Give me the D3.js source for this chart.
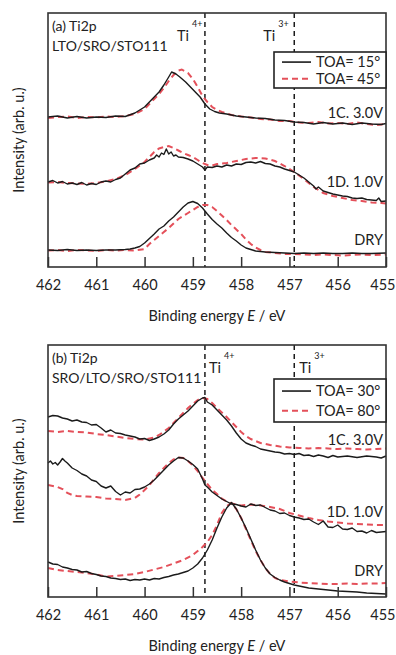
<!DOCTYPE html>
<html>
<head>
<meta charset="utf-8">
<script src="https://cdn.jsdelivr.net/npm/d3@7"></script>
<style>
  body { margin: 0; background: #fff; }
  svg text { font-family: Lato, "Open Sans", sans-serif; fill: #222; }
</style>
</head>
<body>
<svg id="chart" width="396" height="655"></svg>
<script>
// binding energy ticks (eV)
const energyTicks = [462, 461, 460, 459, 458, 457, 456, 455];
const ti4Energy = 458.75;
const ti3Energy = 456.9;

// panel (a) LTO/SRO/STO111, [E, intensity]
const a1C_15 = [[462.0,150],[461.8,151],[461.6,149],[461.4,150.5],[461.2,149],[461.0,150],[460.8,149.5],[460.6,151],[460.4,150.5],[460.2,154],[460.0,160],[459.9,165],[459.8,170],[459.7,175],[459.6,182],[459.5,190],[459.44,195],[459.35,193],[459.27,190],[459.15,185],[459.05,180],[458.95,175],[458.85,170],[458.75,163],[458.65,158],[458.55,155.5],[458.45,154],[458.3,153],[458.1,151],[457.9,150],[457.7,149],[457.5,148.5],[457.3,147],[457.1,146.5],[456.9,145],[456.7,144.5],[456.5,143],[456.3,144.5],[456.1,143],[455.9,144],[455.7,142.5],[455.5,144],[455.3,143],[455.1,142.5],[455.0,143.5]];
const a1C_45 = [[462.0,149],[461.8,150],[461.6,150.5],[461.4,149],[461.2,150],[461.0,149.5],[460.8,150.5],[460.6,150],[460.4,151],[460.2,153],[460.0,158],[459.9,163],[459.8,168],[459.7,173],[459.6,179],[459.5,186],[459.4,192],[459.3,196.5],[459.23,197.5],[459.1,194],[459.0,188],[458.9,180],[458.8,171],[458.7,165],[458.6,160],[458.5,157],[458.4,155],[458.2,152],[458.0,150.5],[457.8,149.5],[457.6,148],[457.4,147.5],[457.2,146],[457.0,146],[456.8,144.5],[456.6,144],[456.4,145],[456.2,143.5],[456.0,144],[455.8,143],[455.6,144.5],[455.4,143],[455.2,142],[455.0,143]];
const a1D_15 = [[462.0,85],[461.9,86.5],[461.8,84],[461.7,85.5],[461.6,83],[461.5,84],[461.4,82.5],[461.3,84.5],[461.2,82],[461.1,83.5],[461.0,82.5],[460.9,85],[460.8,86],[460.7,85],[460.6,87.5],[460.5,89],[460.4,93],[460.3,97],[460.2,99],[460.1,103],[460.0,104],[459.9,107],[459.8,109],[459.75,112],[459.7,110],[459.65,114],[459.6,112.5],[459.55,118],[459.5,113],[459.45,115],[459.4,111],[459.35,112],[459.3,110],[459.2,109.5],[459.1,108],[459.0,106],[458.9,103],[458.8,100],[458.75,97],[458.7,100],[458.6,99.5],[458.5,101],[458.4,100],[458.3,102],[458.2,101],[458.1,103],[458.0,102.5],[457.9,104.5],[457.8,105],[457.7,104],[457.6,105.5],[457.5,103.5],[457.4,103],[457.3,101],[457.2,100],[457.1,98],[457.0,96.5],[456.9,95],[456.8,92],[456.7,89],[456.6,85],[456.5,81],[456.45,78],[456.4,80],[456.3,76],[456.2,74.5],[456.1,73],[456.0,72],[455.9,71],[455.8,70.5],[455.7,69],[455.6,68.5],[455.5,69],[455.4,67.5],[455.3,67],[455.2,66.5],[455.15,69],[455.1,65.5],[455.0,66]];
const a1D_45 = [[462.0,84.5],[461.8,85],[461.6,84],[461.4,83.5],[461.2,83],[461.0,84],[460.8,85.5],[460.6,88],[460.4,92],[460.2,98],[460.0,105],[459.9,110],[459.8,115],[459.7,118.5],[459.6,120],[459.5,121],[459.4,119],[459.3,116.5],[459.2,114],[459.1,112],[459.0,110],[458.9,107],[458.8,104],[458.7,102],[458.6,101.5],[458.5,103],[458.3,104],[458.1,106],[457.9,108],[457.7,109],[457.5,108.5],[457.3,106],[457.1,101],[456.9,95],[456.7,88],[456.5,80],[456.3,74],[456.1,71],[455.9,69],[455.7,67],[455.5,66],[455.3,64.5],[455.1,64],[455.0,63.5]];
const aDry_15 = [[462.0,17],[461.8,16.5],[461.6,17.5],[461.4,16.5],[461.2,17],[461.0,16.5],[460.8,17],[460.6,17],[460.4,17.5],[460.3,18],[460.2,19],[460.1,20.5],[460.0,24],[459.9,28.5],[459.8,33],[459.7,38],[459.6,41],[459.5,46],[459.4,50],[459.3,55],[459.2,60],[459.1,64],[459.0,65.5],[458.9,63.5],[458.8,59],[458.7,53],[458.6,47.5],[458.5,43],[458.4,39],[458.3,34],[458.2,29.5],[458.1,26],[458.0,22],[457.9,19],[457.8,17.5],[457.7,16],[457.5,15],[457.3,14.5],[457.1,14],[456.9,13.5],[456.7,14],[456.5,13.5],[456.3,14],[456.1,13.5],[455.9,13.5],[455.7,14],[455.5,13.5],[455.3,13.5],[455.0,14]];
const aDry_45 = [[462.0,16.5],[461.8,17],[461.6,16],[461.4,17],[461.2,16.5],[461.0,16],[460.8,17],[460.6,16.5],[460.4,17],[460.2,16.5],[460.0,18],[459.9,23],[459.8,27],[459.7,31],[459.6,35],[459.5,39],[459.4,43.5],[459.3,48],[459.2,51],[459.1,54],[459.0,57],[458.9,60],[458.8,62],[458.7,62],[458.6,60],[458.5,56],[458.4,51.5],[458.3,47],[458.2,42],[458.1,37.5],[458.0,33],[457.9,27.5],[457.8,23],[457.7,19.5],[457.6,17],[457.5,15],[457.3,14],[457.1,13],[456.9,13],[456.7,12.5],[456.5,12],[456.3,12.5],[456.1,12],[455.9,11.5],[455.7,12],[455.5,12.5],[455.3,12],[455.0,12.5]];

// panel (b) SRO/LTO/SRO/STO111
const b1C_30 = [[462.0,180],[461.9,181.5],[461.8,181],[461.7,179],[461.6,178],[461.5,176],[461.4,177],[461.3,175],[461.2,174.5],[461.1,172],[461.0,172.5],[460.9,169],[460.8,165],[460.7,167],[460.6,164],[460.5,163.5],[460.4,162],[460.3,161],[460.2,160],[460.1,158],[460.0,158.5],[459.9,156.5],[459.8,158],[459.7,160],[459.6,163],[459.5,167],[459.4,173],[459.3,178],[459.2,182],[459.1,186],[459.0,191],[458.9,196],[458.8,199],[458.75,199.5],[458.7,195],[458.6,192],[458.5,187],[458.4,182],[458.3,177],[458.2,171],[458.1,164],[458.0,158],[457.9,154],[457.8,152],[457.7,150.5],[457.6,148],[457.5,147],[457.4,146],[457.3,145],[457.2,144.5],[457.1,143],[457.0,143.5],[456.9,142.5],[456.8,143.5],[456.7,141.5],[456.6,142],[456.5,140.5],[456.4,142],[456.3,141],[456.2,139.5],[456.1,141.5],[456.0,140],[455.8,141],[455.6,139.5],[455.4,141],[455.2,140],[455.1,139],[455.0,141]];
const b1C_80 = [[462.0,166],[461.8,165],[461.6,166],[461.4,165],[461.2,164.5],[461.0,163],[460.8,162],[460.6,160.5],[460.4,159],[460.2,158],[460.0,157.5],[459.8,159.5],[459.7,162],[459.6,165.5],[459.5,169],[459.4,174],[459.3,179],[459.2,184],[459.1,189],[459.0,193],[458.9,197],[458.8,199],[458.7,198],[458.6,194],[458.5,189],[458.4,184.5],[458.3,180],[458.2,175],[458.1,170],[458.0,165],[457.9,161],[457.8,158],[457.7,156],[457.6,154],[457.4,152],[457.2,150.5],[457.0,149.5],[456.8,149],[456.6,148.5],[456.4,149],[456.2,148.5],[456.0,148],[455.8,148.5],[455.6,148],[455.4,147.5],[455.2,148],[455.0,148.5]];
const b1D_30 = [[462.0,134],[461.95,136],[461.9,133],[461.85,134.5],[461.8,132],[461.75,135],[461.7,138.5],[461.65,136],[461.6,134],[461.5,129],[461.4,126.5],[461.3,123],[461.2,121],[461.1,117],[461.0,115.5],[460.9,111],[460.8,109],[460.7,111],[460.6,105.5],[460.5,102],[460.4,105],[460.3,104],[460.2,107.5],[460.1,108],[460.0,110],[459.9,113],[459.8,117],[459.7,122],[459.6,127],[459.5,132],[459.4,136],[459.3,139.5],[459.2,139],[459.1,136],[459.0,132.5],[458.9,128],[458.8,118],[458.75,112],[458.7,110],[458.6,105],[458.5,101.5],[458.4,98],[458.3,95.5],[458.2,93],[458.1,92.5],[458.0,91],[457.9,90],[457.8,93],[457.7,91.5],[457.6,92],[457.5,89.5],[457.4,87],[457.3,86],[457.2,83.5],[457.1,84],[457.0,81.5],[456.9,80],[456.8,79],[456.7,77.5],[456.6,78],[456.5,75],[456.4,72.5],[456.3,76],[456.2,70],[456.1,69.5],[456.0,72],[455.9,68],[455.8,67.5],[455.7,69],[455.6,65.5],[455.5,66],[455.4,64],[455.3,66.5],[455.2,64.5],[455.1,65],[455.0,65.5]];
const b1D_80 = [[462.0,112],[461.9,111],[461.8,110],[461.7,108],[461.6,104],[461.5,102],[461.4,101],[461.2,100.5],[461.0,100],[460.8,98.5],[460.6,98],[460.4,97],[460.2,99],[460.1,102.5],[460.0,107],[459.9,112],[459.8,118],[459.7,124],[459.6,129],[459.5,134],[459.4,137.5],[459.3,139.5],[459.2,139],[459.1,136],[459.0,131.5],[458.9,126],[458.8,119],[458.7,113],[458.6,107],[458.5,103],[458.4,98.5],[458.3,95.5],[458.2,93.5],[458.0,91.5],[457.8,92.5],[457.6,91.5],[457.4,90],[457.2,88],[457.0,84],[456.8,81.5],[456.6,79],[456.4,77],[456.2,75.5],[456.0,74.5],[455.8,73.5],[455.6,73],[455.4,72.5],[455.2,72],[455.0,72]];
const bDry_30 = [[462.0,35],[461.9,33],[461.8,32.5],[461.7,30],[461.6,29],[461.5,27.5],[461.4,27],[461.3,25],[461.2,25.5],[461.1,23.5],[461.0,22.5],[460.9,21],[460.8,20.5],[460.7,19],[460.6,18.5],[460.5,17.5],[460.4,18],[460.3,16.5],[460.2,17.5],[460.1,17],[460.0,18],[459.9,17],[459.8,18.5],[459.7,18],[459.6,19.5],[459.5,20.5],[459.4,22],[459.3,23],[459.2,24.5],[459.1,26],[459.0,29],[458.9,33],[458.8,39],[458.7,47],[458.6,57],[458.5,69],[458.4,80],[458.3,89],[458.2,94.5],[458.1,88],[458.0,79],[457.9,69],[457.8,58],[457.7,47],[457.6,37],[457.5,29],[457.4,23],[457.3,19.5],[457.2,17],[457.1,15],[457.0,13.5],[456.9,12],[456.8,11],[456.6,9],[456.4,8],[456.2,7],[456.0,6],[455.8,5.5],[455.6,5],[455.4,4],[455.2,3.5],[455.0,3]];
const bDry_80 = [[462.0,29],[461.8,27],[461.6,26],[461.4,25],[461.2,24],[461.0,22.5],[460.8,20.5],[460.6,21],[460.4,22],[460.2,23],[460.0,25],[459.8,27.5],[459.6,30],[459.4,33.5],[459.2,37],[459.0,42],[458.9,46],[458.8,50],[458.7,55],[458.6,62],[458.5,72],[458.4,84],[458.3,91],[458.2,94],[458.1,88],[458.0,79],[457.9,68],[457.8,57],[457.7,46],[457.6,37],[457.5,29],[457.4,23],[457.3,19],[457.2,17],[457.0,15.5],[456.8,14.5],[456.6,14],[456.4,13.5],[456.2,13],[456.0,13],[455.8,13.5],[455.6,13],[455.4,13.5],[455.2,13.5],[455.0,14]];

const blackColor = "#1b1b1b";
const redColor = "#e4505a";

const svg = d3.select("#chart");

function drawPanel(opts) {
  const { top, bottom, yMax, title, legendLabels, legendBox, solid, dashed, curveLabels } = opts;
  const left = 48, right = 386;

  const x = d3.scaleLinear().domain([462, 455]).range([left, right]);
  const y = d3.scaleLinear().domain([0, yMax]).range([bottom, top]);
  const line = d3.line().x(d => x(d[0])).y(d => y(d[1]));

  const g = svg.append("g");

  // reference lines for Ti4+ / Ti3+
  [ti4Energy, ti3Energy].forEach(e => {
    g.append("line")
      .attr("x1", x(e)).attr("x2", x(e))
      .attr("y1", top).attr("y2", bottom)
      .attr("stroke", blackColor)
      .attr("stroke-width", 1.5)
      .attr("stroke-dasharray", "5,4");
  });

  // spectra
  dashed.forEach(d => {
    g.append("path").datum(d)
      .attr("d", line)
      .attr("fill", "none")
      .attr("stroke", redColor)
      .attr("stroke-width", 2)
      .attr("stroke-dasharray", "6,4");
  });
  solid.forEach(d => {
    g.append("path").datum(d)
      .attr("d", line)
      .attr("fill", "none")
      .attr("stroke", blackColor)
      .attr("stroke-width", 1.4)
      .attr("stroke-linejoin", "round");
  });

  // x axis, ticks pointing up into the frame
  const axis = g.append("g")
    .attr("transform", `translate(0,${bottom})`)
    .call(d3.axisBottom(x).tickValues(energyTicks).tickFormat(d3.format("d"))
      .tickSizeInner(-10).tickSizeOuter(0).tickPadding(13));
  axis.select(".domain").remove();
  axis.selectAll(".tick line").attr("stroke", "#333").attr("stroke-width", 1.5);
  axis.selectAll(".tick text")
    .style("font-family", "Lato, 'Open Sans', sans-serif")
    .style("font-size", "14.5px")
    .attr("fill", "#222");
  // last label sits at the right edge of the figure
  axis.selectAll(".tick text").filter(d => d === 455)
    .attr("text-anchor", "end").attr("x", 9);

  // frame
  g.append("rect")
    .attr("x", left).attr("y", top)
    .attr("width", right - left).attr("height", bottom - top)
    .attr("fill", "none")
    .attr("stroke", "#333")
    .attr("stroke-width", 1.6);

  // titles
  g.append("text").attr("x", 52).attr("y", top + 18)
    .style("font-size", "14px").text(title[0]);
  g.append("text").attr("x", 52).attr("y", top + 38)
    .style("font-size", "14px").text(title[1]);

  // Ti labels
  const tiLab = (e, dx, sup) => {
    g.append("text")
      .attr("x", x(e) + dx).attr("y", top + 28)
      .style("font-size", "14.5px").text("Ti");
    g.append("text")
      .attr("x", x(e) + dx + 15).attr("y", top + 14)
      .style("font-size", "9px").text(sup);
  };
  tiLab(ti4Energy, opts.tiDx[0], "4+");
  tiLab(ti3Energy, opts.tiDx[1], "3+");

  // legend
  const lg = g.append("g");
  lg.append("rect")
    .attr("x", legendBox[0]).attr("y", legendBox[1])
    .attr("width", legendBox[2]).attr("height", legendBox[3])
    .attr("fill", "#fff").attr("stroke", "#222").attr("stroke-width", 1.6);
  legendLabels.forEach((lab, i) => {
    const ly = legendBox[1] + legendBox[3] * (i === 0 ? 0.28 : 0.74);
    lg.append("line")
      .attr("x1", legendBox[0] + 8).attr("x2", legendBox[0] + 37)
      .attr("y1", ly).attr("y2", ly)
      .attr("stroke", i === 0 ? blackColor : redColor)
      .attr("stroke-width", i === 0 ? 1.6 : 2)
      .attr("stroke-dasharray", i === 0 ? null : "6,4");
    lg.append("text")
      .attr("x", legendBox[0] + 42).attr("y", ly)
      .attr("dy", "0.35em")
      .style("font-size", "14.5px").text(lab);
  });

  // curve labels
  curveLabels.forEach(c => {
    g.append("text")
      .attr("x", 383).attr("y", y(c[1]))
      .attr("dy", "0.35em")
      .attr("text-anchor", "end")
      .style("font-size", "14.5px").text(c[0]);
  });

  // x title
  const xt = g.append("text")
    .attr("x", 217).attr("y", bottom + 49)
    .attr("dy", "0.35em")
    .attr("text-anchor", "middle")
    .style("font-size", "14.5px");
  xt.append("tspan").text("Binding energy ");
  xt.append("tspan").style("font-style", "italic").text("E");
  xt.append("tspan").text(" / eV");

  // y title
  g.append("text")
    .attr("transform", `translate(19,${(top + bottom) / 2}) rotate(-90)`)
    .attr("dy", "0.35em")
    .attr("text-anchor", "middle")
    .style("font-size", "14.5px")
    .text("Intensity (arb. u.)");
}

drawPanel({
  top: 13, bottom: 267, yMax: 254,
  title: ["(a) Ti2p", "LTO/SRO/STO111"],
  legendLabels: ["TOA= 15°", "TOA= 45°"],
  legendBox: [274, 52, 112, 36],
  tiDx: [-28, -31],
  solid: [a1C_15, a1D_15, aDry_15],
  dashed: [a1C_45, a1D_45, aDry_45],
  curveLabels: [["1C. 3.0V", 154], ["1D. 1.0V", 85], ["DRY", 27]]
});

drawPanel({
  top: 345, bottom: 597, yMax: 252,
  title: ["(b) Ti2p", "SRO/LTO/SRO/STO111"],
  legendLabels: ["TOA= 30°", "TOA= 80°"],
  legendBox: [274, 379, 112, 43],
  tiDx: [4, 5],
  solid: [b1C_30, b1D_30, bDry_30],
  dashed: [b1C_80, b1D_80, bDry_80],
  curveLabels: [["1C. 3.0V", 157], ["1D. 1.0V", 85], ["DRY", 26]]
});
</script>
</body>
</html>
